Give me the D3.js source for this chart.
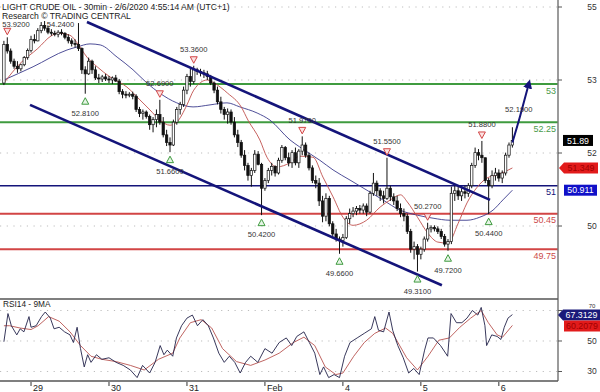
<!DOCTYPE html>
<html><head><meta charset="utf-8">
<script src="https://cdn.jsdelivr.net/npm/d3@7/dist/d3.min.js"></script>
<style>body{margin:0;background:#fff}svg{display:block;font-family:"Liberation Sans",Arial,sans-serif}</style>
</head><body><svg id="c" width="600" height="392"></svg>
<script>
// ---------- DATA ----------
const firstOpen = 53.02;
const highs = [53.85,53.92,53.70,53.50,53.45,53.40,53.55,53.70,53.95,53.98,
 54.10,54.22,54.24,54.15,54.08,54.05,54.06,54.08,54.02,53.98,
 53.90,53.88,54.20,53.72,53.35,53.52,53.48,53.35,53.20,53.18,
 53.20,53.16,53.15,53.18,53.10,52.90,52.86,52.84,52.85,52.80,
 52.55,52.50,52.48,52.40,52.35,52.50,52.69,52.35,52.10,51.95,
 52.30,52.55,52.65,52.95,53.20,53.30,53.36,53.32,53.30,53.28,
 53.26,53.18,53.05,52.95,52.75,52.55,52.52,52.50,52.35,52.10,
 51.90,51.70,51.45,51.35,51.70,51.68,51.45,51.15,51.35,51.45,
 51.40,51.55,51.80,51.78,51.65,51.70,51.75,51.72,51.97,51.85,
 51.65,51.40,51.20,51.15,50.80,50.85,50.80,50.30,50.15,50.00,
 50.05,50.40,50.55,50.58,50.60,50.62,50.65,50.65,50.90,51.25,
 51.10,50.95,50.90,51.55,51.00,50.85,50.80,50.65,50.55,50.45,
 50.15,49.90,49.85,49.80,50.00,50.27,50.22,50.22,50.20,50.15,
 50.05,49.95,50.98,51.00,50.98,50.95,51.00,51.05,51.45,51.75,
 51.72,51.88,51.55,51.15,51.30,51.35,51.32,51.30,51.65,51.85,
 52.15];
const lows = [52.98,53.60,53.40,53.30,53.22,53.25,53.35,53.48,53.62,53.80,
 53.84,54.00,54.05,53.98,53.95,53.94,53.92,53.96,53.88,53.80,
 53.74,53.72,53.65,53.20,52.81,53.18,53.20,53.08,53.02,53.04,
 53.06,53.02,53.00,53.04,52.80,52.72,52.72,52.74,52.70,52.45,
 52.35,52.30,52.32,52.10,52.05,52.15,52.20,51.95,51.78,51.66,
 51.78,52.20,52.40,52.55,52.80,52.95,53.00,53.18,53.15,53.12,
 53.08,52.98,52.82,52.60,52.42,52.30,52.22,52.20,51.95,51.76,
 51.55,51.30,51.10,50.98,51.25,51.40,50.42,50.90,51.05,51.20,
 51.18,51.22,51.45,51.50,51.38,51.35,51.40,51.35,51.60,51.55,
 51.30,51.05,50.95,50.60,50.28,50.30,50.20,50.00,49.90,49.66,
 49.80,49.95,50.25,50.38,50.42,50.45,50.45,50.40,50.45,50.80,
 50.80,50.70,50.65,50.72,50.70,50.62,50.50,50.38,50.30,50.05,
 49.68,49.55,49.31,49.55,49.70,49.90,50.08,50.10,50.05,49.95,
 49.80,49.72,49.85,50.70,50.72,50.70,50.75,50.78,50.95,51.35,
 51.50,51.45,51.05,50.44,50.95,51.10,51.08,51.05,51.20,51.55,
 51.75];
const closes = [53.78,53.65,53.45,53.35,53.30,53.38,53.52,53.66,53.88,53.85,
 54.05,54.15,54.10,54.02,54.00,53.98,54.02,54.00,53.92,53.85,
 53.80,53.78,53.70,53.28,53.20,53.45,53.28,53.12,53.10,53.14,
 53.10,53.08,53.12,53.06,52.85,52.80,52.78,52.80,52.76,52.50,
 52.42,52.45,52.36,52.20,52.30,52.40,52.25,52.00,51.85,51.80,
 52.25,52.50,52.60,52.88,53.15,53.05,53.28,53.25,53.22,53.20,
 53.15,53.02,52.88,52.65,52.50,52.40,52.45,52.25,52.00,51.85,
 51.60,51.40,51.20,51.30,51.62,51.42,50.95,51.10,51.30,51.38,
 51.25,51.50,51.75,51.55,51.45,51.65,51.45,51.68,51.80,51.60,
 51.35,51.10,51.05,50.70,50.40,50.75,50.25,50.05,49.95,49.92,
 49.98,50.35,50.45,50.50,50.55,50.52,50.60,50.48,50.85,51.05,
 50.90,50.80,50.75,50.95,50.78,50.70,50.55,50.45,50.40,50.10,
 49.75,49.80,49.65,49.75,49.95,50.15,50.18,50.15,50.10,50.00,
 49.85,49.90,50.85,50.90,50.80,50.88,50.85,51.00,51.40,51.65,
 51.60,51.55,51.10,51.00,51.20,51.25,51.15,51.25,51.60,51.80,
 51.89];

// moving averages: [bar index, price]
const redMA = [[0,53.02],[4.7,53.40],[10,53.70],[14,53.95],[16,54.00],[19.5,53.96],[21.6,53.81],[24.5,53.53],[27.5,53.34],[31.3,53.14],[36.3,52.94],[40.1,52.69],[43.1,52.49],[46,52.29],[49,52.19],[51,52.25],[54,52.59],[56,52.88],[60,53.08],[62,53.02],[66,52.82],[70,52.55],[72,52.29],[75.5,51.90],[77.6,51.56],[80.6,51.37],[84.4,51.45],[87.3,51.58],[91.2,51.56],[94.1,51.17],[97.1,50.78],[100,50.38],[103,50.22],[107,50.32],[111,50.58],[114,50.72],[117,50.82],[119,50.68],[122,50.38],[125,50.07],[128,49.89],[131,49.87],[134,50.26],[136.6,50.66],[139.6,50.97],[142.5,51.15],[145.5,51.21],[150,51.349]];
const blueMA = [[0,53.08],[8.6,53.34],[18.6,53.67],[21.6,53.73],[25.4,53.79],[28.4,53.77],[33.4,53.53],[38.1,53.28],[42.2,53.02],[46,52.82],[51,52.63],[55.8,52.55],[60.8,52.59],[65.8,52.63],[69.6,52.55],[74.7,52.43],[78.5,52.29],[84.4,51.90],[87.3,51.76],[93.2,51.50],[97.1,51.31],[102.1,51.11],[107.1,50.91],[111.8,50.72],[116.8,50.52],[121.9,50.42],[126.6,50.36],[131.6,50.32],[136.6,50.32],[140.4,50.38],[144.3,50.52],[147.2,50.72],[150,50.911]];

// RSI14 and its 9MA: [bar index, value]
const rsi = [[0,49.5],[1.2,68],[2.2,60],[3.8,54],[4.8,58],[5.9,56],[7.4,66],[8,59],[9.5,60],[11.1,66],[12.2,69],[13.7,65],[14.8,58],[16.3,59],[17.9,56],[19.5,54],[20.5,49],[21.6,59],[22.6,45],[23.7,33],[24.7,41],[25.7,36],[27.3,41],[28.9,38],[31,39],[33.1,36],[35.2,34],[37.3,31],[39.3,26],[40.9,34],[43,29],[44.6,36],[46.1,47],[47.2,41],[48.2,44],[49.8,40],[50.9,52],[52.4,60],[54,65],[55.6,67],[57.1,60],[58.7,64],[60.3,60],[61.8,52],[63.4,42],[65,36],[66.5,40],[68.1,36],[69.7,29],[71.3,36],[72.8,40],[74.9,36],[77,45],[79.1,42],[81.2,49],[83.3,52],[84.9,47],[86.4,53],[88.5,56],[90.1,49],[91.7,42],[93.2,28],[94.3,33],[95.8,26],[97.4,28],[99,26],[100.5,40],[102.1,49],[104.2,52],[106.3,55],[108.4,58],[109.4,66],[110.5,57],[112,56],[113.6,69],[114.7,57],[116.2,47],[117.8,39],[119.4,29],[120.9,32],[122.5,28],[124.1,44],[125.1,52],[126.7,52],[128.8,47],[130.9,40],[131.9,68],[133.5,62],[135.1,62],[136.6,65],[138.2,70],[139.8,67],[140.8,72],[141.9,60],[142.4,47],[143.9,54],[145.5,53],[146.6,51],[147.6,59],[148.7,65],[150,67.3129]];
const rsiMA = [[0,60],[1.7,60],[4.8,58.5],[8,57.5],[10.1,60],[13.2,66],[16.3,63],[19.5,56],[22.6,47],[25.7,40],[28.9,38],[33.1,36.5],[37.3,34],[41.4,31],[45.6,38],[49.8,42],[51.9,52],[55,62],[58.2,64],[61.3,58.5],[64.5,45],[68.6,36.5],[72.8,34],[77,37.5],[81.2,42],[85.4,49],[88.5,52.5],[91.7,47],[94.8,33],[97.9,28],[100,29],[103.2,40],[106.3,49],[109.4,55],[112.6,58.5],[114.7,55],[118.8,39],[122,31],[125.1,40],[128.3,50.5],[131.4,52],[134.5,59],[137.7,65],[140.8,70],[142.9,62],[145.5,54],[147.1,52.5],[150,60.2079]];

// swing markers
const markerIdx  = [1, 12, 24, 46, 49, 56, 76, 88, 99, 113, 122, 125, 131, 141, 143, 151.9];
const markerVal  = [53.92, 54.24, 52.81, 52.69, 51.66, 53.36, 50.42, 51.97, 49.66, 51.55, 49.31, 50.27, 49.72, 51.88, 50.44, 52.19];
const markerType = ["H","H","L","H","L","H","L","H","L","H","L","H","L","H","L","T"];

// horizontal levels
const levelVals   = [53, 52.25, 51, 50.45, 49.75];
const levelLabels = ["53","52.25","51","50.45","49.75"];
const levelKind   = ["res","res","piv","sup","sup"];

// channel lines and target arrow [bar index, price]
const upperChannel = [[24.5,54.22],[143.4,50.72]];
const lowerChannel = [[7.7,52.59],[129.2,49.04]];
const targetArrow  = [[150,51.85],[152.2,52.35],[154.9,53.02]];

// axes
const priceTickLabels = ["55","53","52","50"];
const rsiTicks = [70,50,30];
const dayIdx = [8,31,54,77,100,123,146];
const dayLabels = ["29","30","31","Feb","4","5","6"];

const lastPrice = 51.89, lastRedMA = 51.349, lastBlueMA = 50.911;
const lastRSI = 67.3129, lastRSIMA = 60.2079;

// ---------- SCALES ----------
const plotR = 558, mainB = 299, rsiB = 381;
const x = d3.scaleLinear().domain([0,150]).range([3.9, 3.9 + 150*3.39]);
const y = d3.scaleLinear().domain([48.77,54.654]).range([mainB,0]);
const yr = d3.scaleLinear().domain([23.77,77.54]).range([rsiB,mainB]);
const yTick = d3.scalePoint().domain(priceTickLabels).range([7,226]);

const svg = d3.select("#c");
const defs = svg.append("defs");
defs.append("clipPath").attr("id","cm").append("rect").attr("x",0).attr("y",0).attr("width",plotR).attr("height",mainB);
defs.append("clipPath").attr("id","cr").append("rect").attr("x",0).attr("y",mainB).attr("width",plotR).attr("height",rsiB-mainB);
defs.append("marker").attr("id","ah").attr("viewBox","0 0 10 10").attr("refX",6).attr("refY",5)
  .attr("markerWidth",4.5).attr("markerHeight",4.5).attr("orient","auto")
  .append("path").attr("d","M0,0L10,5L0,10Z").attr("fill","#14147a");

const NAVY = "#14147a", GREEN = "#3f9b3f", RED = "#d24545";

// grid
const grid = svg.append("g").attr("stroke","#bdbdbd").attr("stroke-width",1).attr("stroke-dasharray","1.2,5.5");
priceTickLabels.forEach(t => grid.append("line").attr("x1",0).attr("x2",plotR).attr("y1",yTick(t)).attr("y2",yTick(t)));
rsiTicks.forEach(t => grid.append("line").attr("x1",0).attr("x2",plotR).attr("y1",yr(t)).attr("y2",yr(t)));

const gm = svg.append("g").attr("clip-path","url(#cm)");
// levels
levelVals.forEach((v,k) => {
  const c = levelKind[k]==="res" ? GREEN : levelKind[k]==="sup" ? RED : NAVY;
  gm.append("line").attr("x1",0).attr("x2",plotR).attr("y1",y(v)).attr("y2",y(v))
    .attr("stroke",c).attr("stroke-width", levelKind[k]==="piv" ? 1.6 : 2);
});

// MAs
const ln = d3.line().x(d=>x(d[0])).y(d=>y(d[1])).curve(d3.curveMonotoneX);
gm.append("path").attr("d",ln(blueMA)).attr("fill","none").attr("stroke","#3b3b8c").attr("stroke-width",0.9);
gm.append("path").attr("d",ln(redMA)).attr("fill","none").attr("stroke","#c0504d").attr("stroke-width",0.9);

// candles
const bars = gm.append("g");
closes.forEach((c,i) => {
  const o = i===0 ? firstOpen : closes[i-1];
  const cx = x(i);
  bars.append("line").attr("x1",cx).attr("x2",cx).attr("y1",y(highs[i])).attr("y2",y(lows[i]))
    .attr("stroke","#111").attr("stroke-width",1);
  const top = y(Math.max(o,c)), bot = y(Math.min(o,c));
  bars.append("rect").attr("x",cx-1.2).attr("width",2.4).attr("y",top).attr("height",Math.max(0.8,bot-top))
    .attr("fill", c<o ? "#111" : "#fff").attr("stroke","#111").attr("stroke-width",0.7);
});

// channels
const sl = d3.line().x(d=>x(d[0])).y(d=>y(d[1]));
gm.append("path").attr("d",sl(upperChannel)).attr("stroke",NAVY).attr("stroke-width",2.6).attr("fill","none");
gm.append("path").attr("d",sl(lowerChannel)).attr("stroke",NAVY).attr("stroke-width",2.6).attr("fill","none");
gm.append("path").attr("d",d3.line().x(d=>x(d[0])).y(d=>y(d[1])).curve(d3.curveNatural)(targetArrow))
  .attr("stroke",NAVY).attr("stroke-width",2).attr("fill","none").attr("marker-end","url(#ah)");

// markers
markerIdx.forEach((mi,k) => {
  const t = markerType[k], v = markerVal[k];
  const mx = x(mi), my = y(v);
  let ly, lx = Math.max(mx,16);
  if (t==="L") {
    const ty = my + 7.5; ly = my + 22;
    gm.append("path").attr("d",`M${mx-3.5},${ty+3}L${mx+3.5},${ty+3}L${mx},${ty-3.5}Z`)
      .attr("fill","#e6f4e6").attr("stroke",GREEN).attr("stroke-width",1);
  } else {
    const ty = my - 6; ly = my - 13.5;
    if (t==="H" && my > 30) {
      gm.append("path").attr("d",`M${mx-3.5},${ty-3}L${mx+3.5},${ty-3}L${mx},${ty+3.5}Z`)
        .attr("fill","#fbe2e2").attr("stroke",RED).attr("stroke-width",1);
    }
    if (my > 30 && ly < 27) ly = 27;          // keep clear of the header lines
    if (my <= 30) { ly = 27; lx = mx + 16; }  // top swing label set just under the header
  }
  gm.append("text").attr("x",lx).attr("y",ly).attr("text-anchor","middle")
    .attr("font-size","7.6px").attr("fill","#333").text(v.toFixed(4));
});

// level labels
levelVals.forEach((v,k) => {
  const c = levelKind[k]==="res" ? "#4a9a4a" : levelKind[k]==="sup" ? "#cc4a4a" : NAVY;
  svg.append("text").attr("x",556).attr("y",y(v)+9.5).attr("text-anchor","end")
    .attr("font-size","9px").attr("fill",c).text(levelLabels[k]);
});

// RSI
const gr = svg.append("g").attr("clip-path","url(#cr)");
const rl = d3.line().x(d=>x(d[0])).y(d=>yr(d[1]));
gr.append("path").attr("d",rl(rsiMA)).attr("fill","none").attr("stroke","#b85450").attr("stroke-width",0.9);
gr.append("path").attr("d",rl(rsi)).attr("fill","none").attr("stroke","#22224a").attr("stroke-width",0.9);

// frames
svg.append("line").attr("x1",plotR).attr("x2",plotR).attr("y1",0).attr("y2",rsiB).attr("stroke","#7a7a7a").attr("stroke-width",1.5);
svg.append("line").attr("x1",0).attr("x2",plotR).attr("y1",mainB).attr("y2",mainB).attr("stroke","#555").attr("stroke-width",1.3);
svg.append("line").attr("x1",0).attr("x2",plotR).attr("y1",rsiB).attr("y2",rsiB).attr("stroke","#555").attr("stroke-width",1.3);

// right axis labels
priceTickLabels.forEach(t => {
  svg.append("line").attr("x1",plotR).attr("x2",plotR+4).attr("y1",yTick(t)).attr("y2",yTick(t)).attr("stroke","#555");
  svg.append("text").attr("x",592).attr("y",yTick(t)+3).attr("text-anchor","middle").attr("font-size","8.5px").attr("fill","#333").text(t);
});
rsiTicks.forEach(t => {
  svg.append("line").attr("x1",plotR).attr("x2",plotR+4).attr("y1",yr(t)).attr("y2",yr(t)).attr("stroke","#555");
  const ty = t===70 ? yr(t)-2.5 : yr(t)+3;
  svg.append("text").attr("x",592).attr("y",ty).attr("text-anchor","middle").attr("font-size", t===70 ? "6px" : "8.5px").attr("fill","#333").text(t);
});

// date axis
dayIdx.forEach((d,k) => {
  svg.append("line").attr("x1",x(d)).attr("x2",x(d)).attr("y1",rsiB+1).attr("y2",rsiB+5).attr("stroke","#333");
  svg.append("text").attr("x",x(d)+2).attr("y",391).attr("font-size","9px").attr("fill","#222").text(dayLabels[k]);
});

// value boxes
function valBox(yc, x0, x1, fill, txt, tcol, arrow) {
  const h = 11, t = yc - h/2;
  if (arrow) {
    svg.append("path").attr("d",`M${x0},${yc}L${x0+5},${t}L${x1},${t}L${x1},${t+h}L${x0+5},${t+h}Z`).attr("fill",fill);
  } else {
    svg.append("rect").attr("x",x0).attr("y",t).attr("width",x1-x0).attr("height",h).attr("fill",fill);
  }
  svg.append("text").attr("x",(x0+(arrow?5:0)+x1)/2).attr("y",yc+3.2).attr("text-anchor","middle")
    .attr("font-size","8.8px").attr("fill",tcol).text(txt);
}
valBox(y(lastPrice), 563, 593, "#000", lastPrice.toFixed(2), "#fff", false);
valBox(y(lastRedMA), 559, 598, "#e21b1b", String(lastRedMA), "#a00000", true);
valBox(y(lastBlueMA), 564, 597, "#1010c8", String(lastBlueMA), "#fff", false);
const r1 = Math.max(yr(lastRSI), 315), r2 = Math.max(yr(lastRSIMA), r1 + 11);
valBox(r1, 558, 600, "#1a1a7a", String(lastRSI), "#fff", true);
valBox(r2, 564, 600, "#e21b1b", String(lastRSIMA), "#a00000", false);

// titles
svg.append("text").attr("x",2).attr("y",9.5).attr("font-size","8.6px").attr("fill","#222")
  .text("LIGHT CRUDE OIL - 30min - 2/6/2020 4:55:14 AM (UTC+1)");
svg.append("text").attr("x",2).attr("y",18.5).attr("font-size","8.6px").attr("fill","#222")
  .text("Research \u00A9 TRADING CENTRAL");
svg.append("text").attr("x",3).attr("y",307).attr("font-size","8.3px").attr("fill","#222").text("RSI14 - 9MA");
</script></body></html>
